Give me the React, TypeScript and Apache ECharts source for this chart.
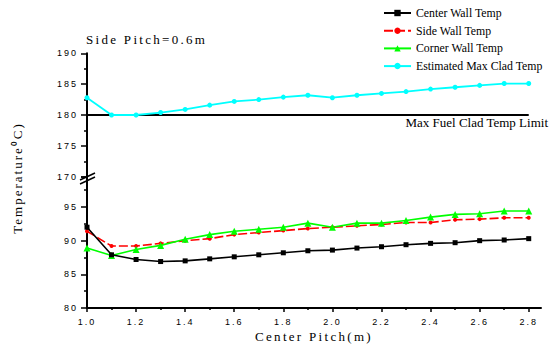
import React, { useEffect, useRef } from "react";
import * as echarts from "echarts";

const PITCH = [1.0, 1.1, 1.2, 1.3, 1.4, 1.5, 1.6, 1.7, 1.8, 1.9, 2.0, 2.1, 2.2, 2.3, 2.4, 2.5, 2.6, 2.7, 2.8];
const CENTER_WALL = [92.0, 87.9, 87.2, 86.9, 87.0, 87.3, 87.6, 87.9, 88.2, 88.5, 88.6, 88.9, 89.1, 89.4, 89.6, 89.7, 90.0, 90.1, 90.3];
const SIDE_WALL = [91.4, 89.2, 89.2, 89.6, 90.0, 90.3, 90.9, 91.2, 91.5, 91.8, 92.0, 92.2, 92.4, 92.7, 92.7, 93.1, 93.2, 93.4, 93.4];
const CORNER_WALL = [88.9, 87.8, 88.7, 89.3, 90.2, 90.9, 91.4, 91.7, 92.0, 92.6, 92.0, 92.6, 92.6, 93.0, 93.5, 93.9, 94.0, 94.4, 94.4];
const MAX_CLAD = [182.8, 180.0, 180.0, 180.4, 180.9, 181.6, 182.2, 182.5, 182.9, 183.2, 182.8, 183.2, 183.5, 183.8, 184.2, 184.5, 184.8, 185.1, 185.1];
const LIMIT_X = [1.0, 2.8];
const LIMIT_VALUE = 180;
const X_TICKS = [1.0, 1.2, 1.4, 1.6, 1.8, 2.0, 2.2, 2.4, 2.6, 2.8];
const NAMES = ["Center Wall Temp", "Side Wall Temp", "Corner Wall Temp", "Estimated Max Clad Temp"];
const TITLE = "Side Pitch=0.6m";
const X_NAME = "Center Pitch(m)";
const Y_NAME = "Temperature\u2070C)";
const LIMIT_TEXT = "Max Fuel Clad Temp Limit";

const SERIF = "Liberation Serif";
const SANS = "Liberation Sans";

const pairs = (vals: number[]) => vals.map((v, i) => [PITCH[i], v]);

export default function App() {
  const ref = useRef<HTMLDivElement>(null);
  useEffect(() => {
    if (!ref.current) return;
    document.body.style.margin = "0";
    const chart = echarts.init(ref.current, null, { renderer: "svg" });
    const axisLine = { show: true, lineStyle: { color: "#000", width: 2 } };
    const yCommon = {
      type: "value" as const,
      interval: 5,
      axisLine,
      splitLine: { show: false },
      axisTick: { show: true, inside: false, length: 6, lineStyle: { color: "#000", width: 1.5 } },
      minorTick: { show: true, splitNumber: 2, length: 3, lineStyle: { color: "#000", width: 1.5 } },
      axisLabel: { fontFamily: SANS, fontSize: 9, color: "#000", margin: 9 },
    };
    const option: any = {
      animation: false,
      backgroundColor: "#fff",
      title: {
        text: TITLE,
        left: 81,
        top: 28,
        textStyle: { fontFamily: SERIF, fontSize: 13, fontWeight: "normal", color: "#000" },
      },
      legend: {
        orient: "vertical",
        left: 383,
        top: 7,
        padding: 0,
        itemWidth: 27,
        itemHeight: 8,
        itemGap: 5.7,
        data: NAMES,
        textStyle: { fontFamily: SERIF, fontSize: 11.8, color: "#000" },
      },
      grid: [
        { left: 87, right: 9, top: 53.3, bottom: 173.3 },
        { left: 87, right: 9, top: 176.7, bottom: 42 },
      ],
      xAxis: [
        { type: "value", gridIndex: 0, min: 1.0, max: 2.85, interval: 0.2, show: false },
        {
          type: "value",
          gridIndex: 1,
          min: 1.0,
          max: 2.85,
          interval: 0.2,
          axisLine,
          splitLine: { show: false },
          axisTick: { show: true, length: 4, customValues: X_TICKS, lineStyle: { color: "#000", width: 1.5 } },
          minorTick: { show: true, splitNumber: 2, length: 2, lineStyle: { color: "#000", width: 1.5 } },
          axisLabel: {
            fontFamily: SANS,
            fontSize: 9,
            color: "#000",
            margin: 9,
            customValues: X_TICKS,
            formatter: (v: number) => v.toFixed(1),
          },
          name: X_NAME,
          nameLocation: "middle",
          nameGap: 22,
          nameTextStyle: { fontFamily: SERIF, fontSize: 13, color: "#000" },
        },
      ],
      yAxis: [
        { ...yCommon, gridIndex: 0, min: 170, max: 190 },
        {
          ...yCommon,
          gridIndex: 1,
          min: 80,
          max: 99.5,
          axisLabel: { ...yCommon.axisLabel, formatter: (v: number) => (v > 96 ? "" : String(v)) },
        },
      ],
      graphic: [
        { type: "line", shape: { x1: 80, y1: 180, x2: 95, y2: 173 }, style: { stroke: "#000", lineWidth: 1.5 } },
        { type: "line", shape: { x1: 80, y1: 184, x2: 95, y2: 177 }, style: { stroke: "#000", lineWidth: 1.5 } },
        {
          type: "text",
          x: 548,
          y: 122,
          style: { text: LIMIT_TEXT, fontFamily: SERIF, fontSize: 13, fill: "#000", textAlign: "right", textVerticalAlign: "middle" },
        },
        {
          type: "text",
          x: 17,
          y: 178,
          rotation: Math.PI / 2,
          style: { text: Y_NAME, fontFamily: SERIF, fontSize: 13, fill: "#000", textAlign: "center", textVerticalAlign: "middle" },
        },
      ],
      series: [
        {
          name: NAMES[0],
          type: "line",
          xAxisIndex: 1,
          yAxisIndex: 1,
          data: pairs(CENTER_WALL),
          symbol: "rect",
          symbolSize: 5,
          color: "#000",
          lineStyle: { color: "#000", width: 1.6 },
          itemStyle: { color: "#000" },
          z: 3,
        },
        {
          name: NAMES[1],
          type: "line",
          xAxisIndex: 1,
          yAxisIndex: 1,
          data: pairs(SIDE_WALL),
          symbol: "circle",
          symbolSize: 4,
          color: "#ff0000",
          lineStyle: { color: "#ff0000", width: 1.6, type: [9, 3] },
          itemStyle: { color: "#ff0000" },
          z: 2,
        },
        {
          name: NAMES[2],
          type: "line",
          xAxisIndex: 1,
          yAxisIndex: 1,
          data: pairs(CORNER_WALL),
          symbol: "triangle",
          symbolSize: 7,
          color: "#00ff00",
          lineStyle: { color: "#00ff00", width: 1.6 },
          itemStyle: { color: "#00ff00" },
          z: 2,
        },
        {
          name: NAMES[3],
          type: "line",
          xAxisIndex: 0,
          yAxisIndex: 0,
          data: pairs(MAX_CLAD),
          symbol: "circle",
          symbolSize: 5,
          color: "#00ffff",
          lineStyle: { color: "#00ffff", width: 1.8 },
          itemStyle: { color: "#00ffff" },
          z: 3,
        },
        {
          name: "limit",
          type: "line",
          xAxisIndex: 0,
          yAxisIndex: 0,
          data: LIMIT_X.map((x) => [x, LIMIT_VALUE]),
          symbol: "none",
          silent: true,
          lineStyle: { color: "#000", width: 2 },
          z: 2,
        },
      ],
    };
    chart.setOption(option);
    const spaced: Record<string, string> = { [TITLE]: "2.3px", [X_NAME]: "2.3px", [Y_NAME]: "2px" };
    const apply = () => {
      const el = ref.current;
      if (!el) return;
      el.querySelectorAll("text").forEach((t) => {
        const s = (t.textContent || "").trim();
        if (spaced[s]) t.style.letterSpacing = spaced[s];
        else if (/^[0-9.]+$/.test(s)) t.style.letterSpacing = "2px";
      });
    };
    apply();
    chart.on("finished", apply);
    return () => chart.dispose();
  }, []);
  return <div ref={ref} style={{ width: 550, height: 350 }} />;
}
